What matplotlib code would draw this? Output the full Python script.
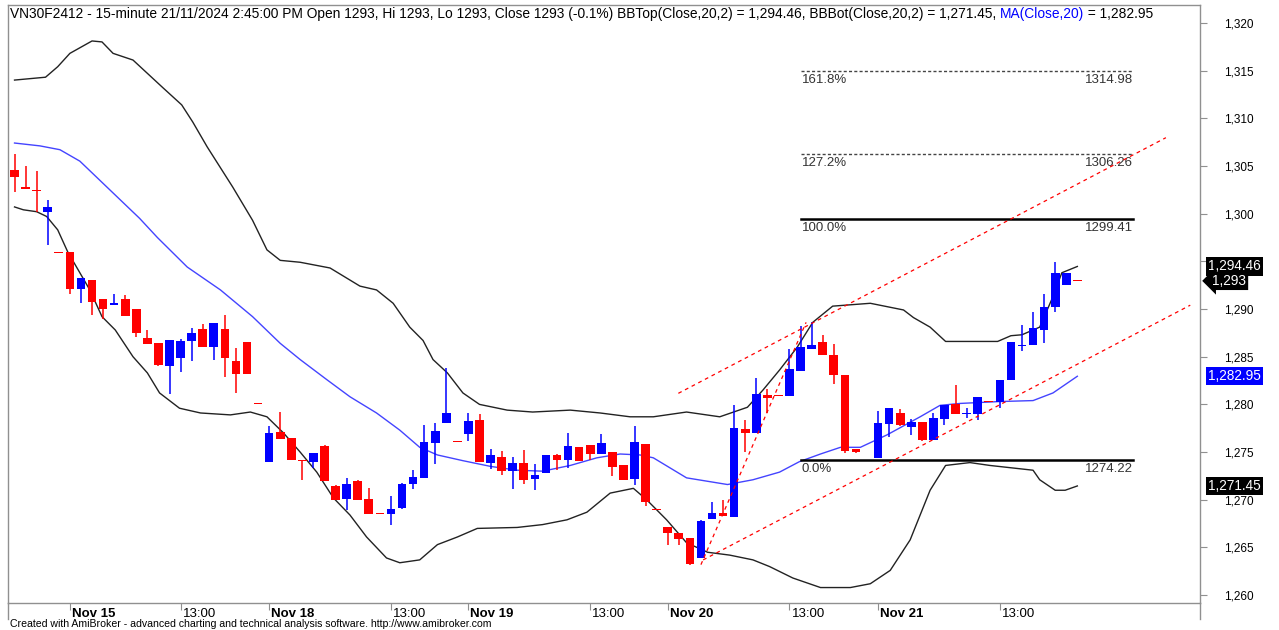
import matplotlib
matplotlib.use("Agg")
import matplotlib.pyplot as plt
import matplotlib.transforms as mtransforms
from matplotlib.lines import Line2D
from matplotlib.ticker import FuncFormatter

plt.rcParams["font.family"] = ["Liberation Sans", "DejaVu Sans"]

# 15-minute bars, VN30F2412, 14/11 afternoon .. 21/11 14:45
opens = [1304.6, 1302.75, 1302.5, 1300.2, 1296.0, 1296.0, 1292.1, 1293.0, 1291.0, 1290.4,
         1291.0, 1290.0, 1287.0, 1286.4, 1284.0, 1284.9, 1286.6, 1287.9, 1286.0, 1287.9,
         1284.6, 1286.5, 1280.1, 1274.0, 1277.1, 1276.5, 1274.2, 1274.0, 1275.6, 1271.4,
         1270.1, 1272.0, 1270.1, 1268.6, 1268.5, 1269.1, 1271.7, 1272.3, 1276.0, 1278.0,
         1276.2, 1276.9, 1278.4, 1273.9, 1274.5, 1273.0, 1273.9, 1272.2, 1272.8, 1274.7,
         1274.2, 1275.5, 1275.7, 1274.8, 1275.0, 1273.6, 1272.2, 1275.9, 1269.0, 1267.1,
         1266.5, 1266.0, 1263.9, 1268.0, 1268.6, 1268.2, 1277.4, 1277.0, 1281.0, 1281.0,
         1280.9, 1283.5, 1285.8, 1286.5, 1285.2, 1283.1, 1275.3, 1278.1, 1274.4, 1277.9,
         1279.1, 1277.6, 1278.2, 1276.3, 1278.5, 1280.0, 1279.0, 1279.0, 1280.4, 1280.3,
         1282.6, 1286.1, 1286.2, 1287.8, 1290.2, 1292.5, 1293.05]
highs = [1306.3, 1305.0, 1304.5, 1301.4, 1296.0, 1296.0, 1293.2, 1293.0, 1291.0, 1291.6,
         1291.5, 1290.0, 1287.8, 1286.4, 1286.8, 1286.9, 1288.0, 1288.4, 1288.5, 1289.4,
         1285.9, 1286.5, 1280.1, 1277.7, 1279.2, 1276.5, 1274.2, 1274.9, 1275.7, 1271.5,
         1272.3, 1272.1, 1271.2, 1268.6, 1270.4, 1271.8, 1273.1, 1277.8, 1278.0, 1283.8,
         1276.2, 1279.1, 1279.0, 1275.3, 1275.1, 1274.5, 1275.2, 1273.7, 1274.7, 1274.8,
         1277.0, 1275.5, 1275.7, 1276.9, 1275.0, 1273.6, 1277.7, 1275.9, 1269.0, 1267.1,
         1266.5, 1266.0, 1267.9, 1269.8, 1270.0, 1279.9, 1278.4, 1282.8, 1281.6, 1281.0,
         1285.8, 1288.2, 1288.6, 1287.3, 1286.3, 1283.1, 1275.3, 1278.1, 1279.3, 1279.6,
         1279.5, 1278.5, 1278.2, 1279.1, 1279.9, 1282.0, 1279.6, 1280.8, 1280.4, 1282.6,
         1286.5, 1288.3, 1289.7, 1291.6, 1294.9, 1293.8, 1293.05]
lows = [1302.3, 1302.6, 1300.2, 1296.7, 1295.9, 1291.6, 1290.6, 1289.4, 1289.0, 1290.4,
        1289.3, 1287.1, 1286.3, 1284.0, 1281.1, 1283.4, 1284.5, 1286.0, 1284.7, 1282.9,
        1281.2, 1283.2, 1280.0, 1274.0, 1276.4, 1274.2, 1272.1, 1273.3, 1272.0, 1270.0,
        1268.9, 1270.0, 1268.5, 1268.5, 1267.4, 1269.0, 1271.1, 1272.3, 1273.7, 1278.0,
        1276.1, 1276.2, 1274.0, 1273.2, 1272.6, 1271.1, 1271.7, 1271.0, 1272.8, 1273.1,
        1273.3, 1274.1, 1274.2, 1274.8, 1272.5, 1272.1, 1271.5, 1269.3, 1268.9, 1265.3,
        1265.3, 1263.2, 1263.9, 1268.0, 1268.3, 1268.2, 1275.0, 1277.0, 1279.1, 1280.9,
        1280.9, 1283.5, 1285.8, 1285.2, 1282.1, 1274.9, 1274.9, 1278.0, 1274.4, 1276.6,
        1277.7, 1276.8, 1276.2, 1276.3, 1277.8, 1279.0, 1278.6, 1278.4, 1280.3, 1279.6,
        1282.6, 1285.6, 1286.2, 1286.4, 1289.7, 1292.5, 1292.95]
closes = [1303.8, 1302.6, 1302.4, 1300.7, 1295.9, 1292.1, 1293.2, 1290.7, 1290.0, 1290.6,
          1289.3, 1287.5, 1286.3, 1284.1, 1286.8, 1286.6, 1287.5, 1286.0, 1288.5, 1284.9,
          1283.2, 1283.2, 1280.0, 1277.0, 1276.4, 1274.2, 1274.1, 1274.9, 1272.0, 1270.0,
          1271.7, 1270.0, 1268.5, 1268.5, 1269.0, 1271.7, 1272.4, 1276.1, 1277.2, 1279.1,
          1276.1, 1278.3, 1274.0, 1274.7, 1273.0, 1273.9, 1272.1, 1272.6, 1274.7, 1274.2,
          1275.6, 1274.1, 1274.8, 1276.0, 1273.4, 1272.1, 1276.1, 1269.8, 1268.9, 1266.5,
          1265.9, 1263.3, 1267.8, 1268.6, 1268.3, 1277.5, 1277.0, 1281.1, 1280.7, 1280.9,
          1283.7, 1286.0, 1286.2, 1285.2, 1283.1, 1275.1, 1275.0, 1278.0, 1278.0, 1279.6,
          1277.8, 1278.2, 1276.3, 1278.6, 1279.9, 1279.0, 1279.1, 1280.8, 1280.3, 1282.6,
          1286.5, 1286.2, 1288.0, 1290.2, 1293.8, 1293.8, 1292.95]

# indicator lines (bar position, value)
bbtop_pos = [0, 2.8, 3.9, 5.0, 7.0, 7.9, 8.9, 10.7, 13.4, 15.1, 16.1, 17.4, 19.7, 21.5,
             22.8, 24.0, 25.8, 28.5, 31.2, 32.7, 34.2, 35.7, 36.9, 37.8, 39.1, 40.5, 42.0,
             44.5, 46.8, 50.2, 52.9, 55.6, 57.7, 60.7, 63.7, 66.2, 67.6, 69.1, 70.7, 72.1,
             73.9, 77.3, 80.3, 81.2, 82.7, 84.1, 88.8, 90.0, 91.0, 92.6, 93.8, 94.6, 96.0]
bbtop_val = [1314.0, 1314.3, 1315.4, 1316.8, 1318.1, 1318.0, 1316.8, 1316.1, 1313.2, 1311.4,
             1309.6, 1307.0, 1302.8, 1299.3, 1296.2, 1295.1, 1294.9, 1294.3, 1292.4, 1292.0,
             1290.6, 1288.1, 1286.7, 1284.7, 1283.3, 1281.2, 1280.0, 1279.4, 1279.2, 1279.4,
             1279.1, 1278.7, 1278.7, 1279.2, 1278.7, 1279.7, 1281.5, 1283.6, 1286.0, 1288.6,
             1290.3, 1290.6, 1289.9, 1289.1, 1288.1, 1286.6, 1286.6, 1287.2, 1287.3, 1288.1,
             1291.3, 1293.8, 1294.46]
ma_pos = [0, 2.3, 4.1, 5.9, 8.6, 11.3, 12.9, 15.6, 18.6, 21.5, 24.0, 25.8, 28.2, 30.3, 32.7,
          34.8, 36.6, 38.2, 40.5, 43.0, 45.4, 47.7, 50.2, 52.6, 54.7, 56.5, 57.7, 60.7, 64.4,
          66.7, 69.1, 70.9, 72.8, 74.6, 76.4, 78.8, 81.8, 83.6, 85.4, 89.0, 92.0, 93.8, 96.0]
ma_val = [1307.4, 1307.1, 1306.7, 1305.5, 1302.5, 1299.5, 1297.5, 1294.4, 1292.0, 1289.2,
          1286.4, 1284.7, 1282.6, 1280.8, 1279.1, 1277.3, 1275.5, 1274.7, 1274.1, 1273.5,
          1273.1, 1273.0, 1273.6, 1274.4, 1274.8, 1274.7, 1274.4, 1272.3, 1271.6, 1272.1,
          1272.9, 1274.0, 1274.8, 1275.5, 1275.5, 1276.8, 1278.7, 1279.9, 1280.1, 1280.3,
          1280.4, 1281.2, 1282.95]
bbbot_pos = [0, 0.8, 2.0, 2.9, 3.9, 4.8, 5.6, 6.8, 7.9, 9.1, 10.7, 12.0, 13.1, 14.9, 16.8,
             19.5, 21.3, 22.8, 24.3, 25.8, 27.3, 28.8, 30.3, 31.8, 33.6, 34.8, 36.6, 38.2,
             40.0, 41.8, 45.4, 47.7, 49.9, 51.7, 53.8, 55.9, 57.1, 58.9, 60.7, 62.6, 64.6,
             66.7, 68.2, 70.3, 72.8, 75.5, 77.3, 79.1, 80.9, 82.7, 84.1, 86.3, 88.1, 92.0,
             92.6, 94.0, 94.9, 96.0]
bbbot_val = [1300.7, 1300.4, 1300.2, 1299.7, 1298.3, 1296.0, 1294.4, 1292.0, 1289.2, 1287.8,
             1285.0, 1283.3, 1281.2, 1279.6, 1279.1, 1278.9, 1279.2, 1278.7, 1277.0, 1275.0,
             1272.9, 1270.2, 1268.4, 1266.1, 1263.9, 1263.4, 1263.7, 1265.3, 1266.1, 1267.0,
             1267.1, 1267.4, 1267.9, 1268.7, 1270.7, 1271.2, 1270.0, 1267.9, 1265.5, 1264.5,
             1264.2, 1263.7, 1263.0, 1261.8, 1260.8, 1260.8, 1261.2, 1262.6, 1265.8, 1271.0,
             1273.6, 1273.9, 1273.6, 1273.1, 1272.1, 1271.0, 1271.0, 1271.45]

# fibonacci extension drawn from bar 71 to bar 101
fib_span = [71, 101]
fib_names = ["0.0%", "100.0%", "127.2%", "161.8%"]
fib_values = [1274.22, 1299.41, 1306.26, 1314.98]

# hand-drawn trend lines (bar, price) end points
channel_top = ([59.96, 104.0], [1281.16, 1307.96])
channel_bot = ([62.2, 106.2], [1263.7, 1290.4])
rally_line = ([62.0, 71.5], [1263.2, 1288.6])

tick_bars = [5, 15, 23, 34, 41, 52, 59, 70, 78, 89]
tick_names = ["Nov 15", "13:00", "Nov 18", "13:00", "Nov 19", "13:00",
              "Nov 20", "13:00", "Nov 21", "13:00"]

W, H = 1279, 630
fig = plt.figure(figsize=(W / 100, H / 100), dpi=100)
ax = fig.add_axes([8 / W, (H - 603) / H, (1200 - 8) / W, (603 - 5) / H])
ax.set_xlim(-0.59, 107.08)
ax.set_ylim(1259.18, 1321.87)

blue, red = "#0000FF", "#FF0000"

# indicator lines
ax.plot(bbtop_pos, bbtop_val, color="#222222", lw=1.0, zorder=2)
ax.plot(bbbot_pos, bbbot_val, color="#222222", lw=1.0, zorder=2)
ax.plot(ma_pos, ma_val, color="#4444FF", lw=1.0, zorder=2)

# candles
bars = range(len(closes))
colors = [blue if c > o else red for o, c in zip(opens, closes)]
ax.vlines(bars, lows, highs, colors=colors, lw=1.1, zorder=3)
bottoms = [min(o, c) for o, c in zip(opens, closes)]
heights = [max(abs(o - c), 0.1) for o, c in zip(opens, closes)]
ax.bar(bars, heights, 0.78, bottoms, color=colors, lw=0, zorder=4)

# fibonacci levels
for name, val in zip(fib_names, fib_values):
    if name in ("0.0%", "100.0%"):
        ax.plot(fib_span, [val, val], color="black", lw=1.8, zorder=5)
    else:
        ax.plot(fib_span, [val, val], color="#444444", lw=1.0,
                dashes=(2.2, 1.6), zorder=5)
    ax.annotate(name, (fib_span[0], val), xytext=(1, -3), textcoords="offset pixels",
                ha="left", va="top", fontsize=9.5, color="#333333")
    ax.annotate(f"{val:.2f}", (fib_span[1], val), xytext=(0, -3),
                textcoords="offset pixels", ha="right", va="top", fontsize=9.5,
                color="#333333")

# trend lines
for xs, ys in (channel_top, channel_bot, rally_line):
    ax.plot(xs, ys, color=red, lw=0.9, dashes=(3, 3), zorder=6)

# axes styling
frame = "#909090"
for side in ("left", "right", "top", "bottom"):
    ax.spines[side].set_color(frame)
    ax.spines[side].set_linewidth(1.0)

ax.yaxis.tick_right()
ax.set_yticks(range(1260, 1321, 5))
ax.yaxis.set_major_formatter(FuncFormatter(lambda v, p: f"{v:,.0f}"))
ax.tick_params(axis="y", direction="out", length=5, color=frame, labelsize=8.5,
               pad=12, labelcolor="black")

ax.set_xticks(tick_bars)
ax.set_xticklabels(tick_names)
ax.tick_params(axis="x", direction="out", length=5, color=frame, labelsize=9.5,
               pad=-1.5)
shift = mtransforms.ScaledTranslation(2 / 100, 0, fig.dpi_scale_trans)
for lab in ax.get_xticklabels():
    lab.set_horizontalalignment("left")
    lab.set_transform(lab.get_transform() + shift)
    if lab.get_text().startswith("Nov"):
        lab.set_fontweight("bold")

# vertical frame lines continue past the date axis
for xp in (8, 1200):
    fig.add_artist(Line2D([xp / W, xp / W], [(H - 603) / H, (H - 619) / H],
                          color=frame, lw=1.0))

# value boxes on the price axis
def tag(text, val, fc, style="square,pad=0.16", dx=8):
    ax.annotate(text, (1, val), xycoords=("axes fraction", "data"), xytext=(dx, 0),
                textcoords="offset pixels", ha="left", va="center", fontsize=9.8,
                color="white", bbox=dict(boxstyle=style, fc=fc, ec="none"),
                annotation_clip=False, zorder=10)

tag(f"{bbtop_val[-1]:,.2f}", bbtop_val[-1], "black")
tag(f"{closes[-1]:,.0f}", closes[-1], "black", style="larrow,pad=0.16", dx=12)
tag(f"{ma_val[-1]:,.2f}", ma_val[-1], blue)
tag(f"{bbbot_val[-1]:,.2f}", bbbot_val[-1], "black")

# title line
y_title = 1 - 14 / H
head = ("VN30F2412 - 15-minute 21/11/2024 2:45:00 PM Open 1293, Hi 1293, Lo 1293, "
        "Close 1293 (-0.1%) BBTop(Close,20,2) = 1,294.46, BBBot(Close,20,2) = 1,271.45,")
t1 = fig.text(10 / W, y_title, head, fontsize=9.9, va="center", ha="left")
fig.canvas.draw()
x_end = t1.get_window_extent().x1 + 3.8
t2 = fig.text(x_end / W, y_title, "MA(Close,20)", fontsize=9.9, va="center", ha="left",
              color=blue)
fig.canvas.draw()
x_end = t2.get_window_extent().x1
fig.text(x_end / W, y_title, " = 1,282.95", fontsize=9.9, va="center", ha="left")

fig.text(10 / W, 1 - 624 / H,
         "Created with AmiBroker - advanced charting and technical analysis software. "
         "http://www.amibroker.com", fontsize=7.6, va="center", ha="left")

fig.savefig("out.png", dpi=100, facecolor="white")
